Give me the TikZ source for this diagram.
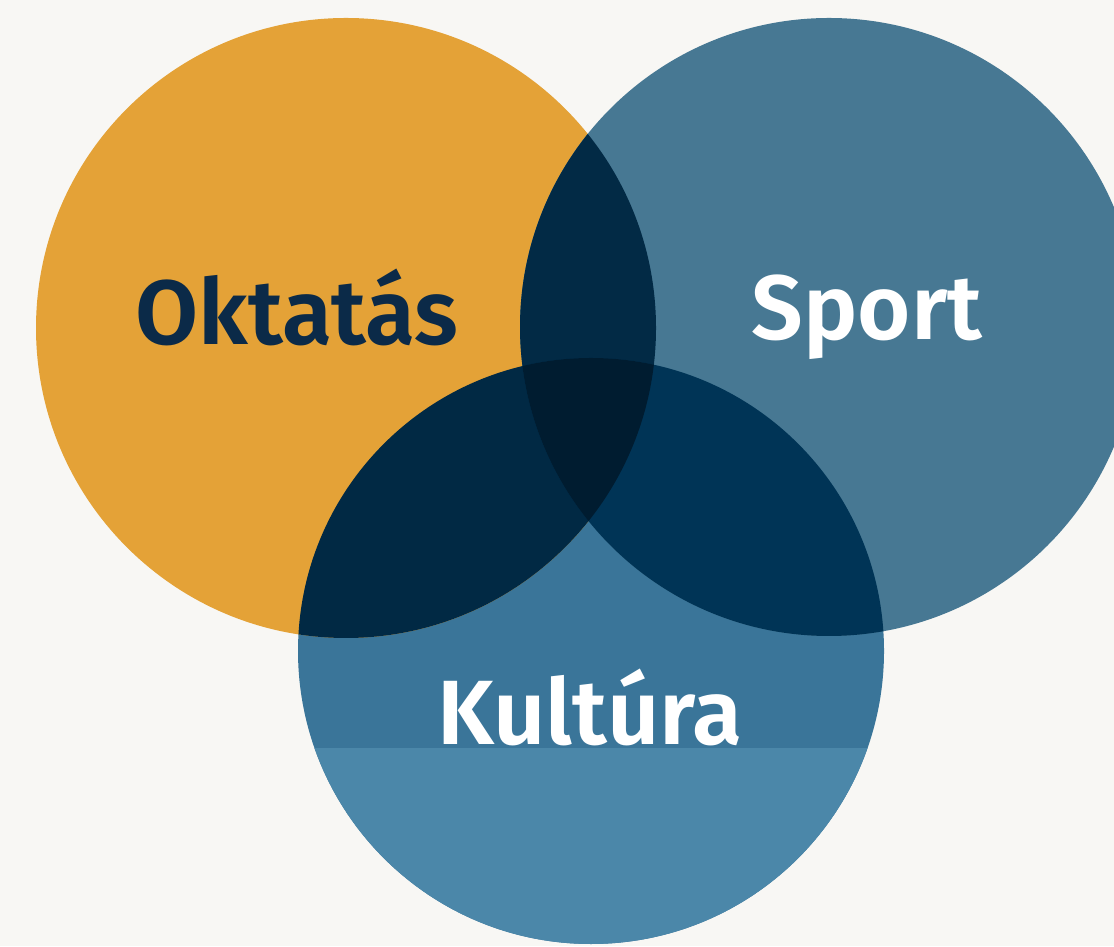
\documentclass[tikz,border=0pt]{standalone}
\usepackage{fontspec}
\setmainfont{Fira Sans}
\newfontfamily\lblfont{Fira Sans SemiBold}
\definecolor{paper}{HTML}{F8F7F4}
\definecolor{oktcol}{HTML}{E4A237}
\definecolor{spcol}{HTML}{477893}
\definecolor{kulcol}{HTML}{3A7599}
\definecolor{kullow}{HTML}{4B87A9}
\definecolor{oksp}{HTML}{022A45}
\definecolor{okkul}{HTML}{012944}
\definecolor{spkul}{HTML}{003456}
\definecolor{allcol}{HTML}{001C30}
\definecolor{navytext}{HTML}{0B2A48}
\tikzset{label/.style={font=\fontsize{52}{60}\lblfont, anchor=base, inner sep=0pt}}
\begin{document}
\begin{tikzpicture}[x=0.02cm,y=0.02cm]
      \useasboundingbox (0,0) rectangle (1114,946);
      \fill[paper] (0,0) rectangle (1114,946);
      \coordinate (okt) at (346,618);
      \coordinate (sp) at (829,619);
      \coordinate (kul) at (591,295);
      % the three sets
      \fill[kulcol] (kul) circle[radius=293];
      \begin{scope}
        \clip (kul) circle[radius=293];
        \fill[kullow] (0,0) rectangle (1114,198);
      \end{scope}
      \fill[oktcol] (okt) circle[radius=310];
      \fill[spcol] (sp) circle[radius=309];
      % overlaps
      \begin{scope}
        \clip (okt) circle[radius=310];
        \fill[oksp] (sp) circle[radius=309];
        \fill[okkul] (kul) circle[radius=293];
      \end{scope}
      \begin{scope}
        \clip (sp) circle[radius=309];
        \fill[spkul] (kul) circle[radius=293];
        \clip (okt) circle[radius=310];
        \fill[allcol] (kul) circle[radius=293];
      \end{scope}
      \node[label, text=navytext] (oktlbl) at (297,601) {Oktatás};
      \node[label, text=white] (splbl) at (867,606) {Sport};
      \node[label, text=white] (kullbl) at (590,201) {Kultúra};
      \end{tikzpicture}
\end{document}
